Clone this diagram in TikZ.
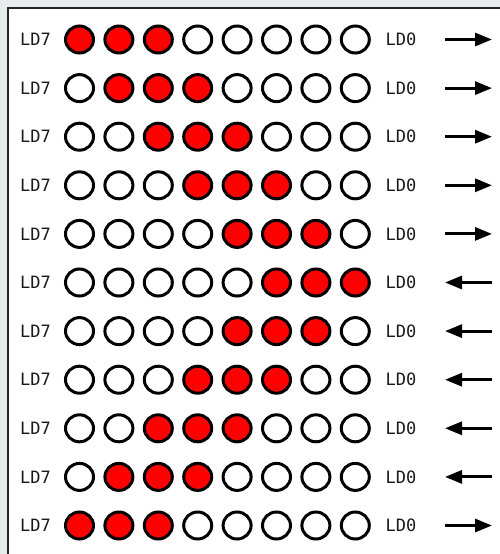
\documentclass[tikz,border=0pt]{standalone}
\usepackage{fontspec}
\setmonofont{DejaVu Sans Mono}
\usepackage{tikz}
\usetikzlibrary{shapes.geometric,arrows.meta}
\definecolor{pagebg}{HTML}{E7ECEF}
\definecolor{labelgray}{HTML}{1A1A1A}

\begin{document}
\begin{tikzpicture}[x=1pt, y=-1pt,
        led/.style={ellipse, draw=black, line width=3pt, fill=white, minimum width=28pt, minimum height=27pt, inner sep=0pt},
        lit/.style={fill=red},
        tag/.style={font=\ttfamily\fontsize{17}{17}\selectfont, text=labelgray, inner sep=0pt}]
    \clip (0,0) rectangle (500,554);
    \fill[pagebg] (0,0) rectangle (500,554);
    \draw[line width=2pt, draw=black!85, fill=white] (8,8) rectangle (520,580);

    % row A
    \begin{scope}[shift={(0,39.5)}]
    \node[tag] (AL) at (35.5,0) {LD7};
    \node[led, lit] (A7) at (79.5,0) {};
    \node[led, lit] (A6) at (118.9,0) {};
    \node[led, lit] (A5) at (158.3,0) {};
    \node[led] (A4) at (197.7,0) {};
    \node[led] (A3) at (237.1,0) {};
    \node[led] (A2) at (276.5,0) {};
    \node[led] (A1) at (315.9,0) {};
    \node[led] (A0) at (355.3,0) {};
    \node[tag] (AR) at (401,0) {LD0};
    \coordinate (AW) at (445,0);
    \coordinate (AE) at (492,0);
    \end{scope}

    % row B
    \begin{scope}[shift={(0,88.1)}]
    \node[tag] (BL) at (35.5,0) {LD7};
    \node[led] (B7) at (79.5,0) {};
    \node[led, lit] (B6) at (118.9,0) {};
    \node[led, lit] (B5) at (158.3,0) {};
    \node[led, lit] (B4) at (197.7,0) {};
    \node[led] (B3) at (237.1,0) {};
    \node[led] (B2) at (276.5,0) {};
    \node[led] (B1) at (315.9,0) {};
    \node[led] (B0) at (355.3,0) {};
    \node[tag] (BR) at (401,0) {LD0};
    \coordinate (BW) at (445,0);
    \coordinate (BE) at (492,0);
    \end{scope}

    % row C
    \begin{scope}[shift={(0,136.7)}]
    \node[tag] (CL) at (35.5,0) {LD7};
    \node[led] (C7) at (79.5,0) {};
    \node[led] (C6) at (118.9,0) {};
    \node[led, lit] (C5) at (158.3,0) {};
    \node[led, lit] (C4) at (197.7,0) {};
    \node[led, lit] (C3) at (237.1,0) {};
    \node[led] (C2) at (276.5,0) {};
    \node[led] (C1) at (315.9,0) {};
    \node[led] (C0) at (355.3,0) {};
    \node[tag] (CR) at (401,0) {LD0};
    \coordinate (CW) at (445,0);
    \coordinate (CE) at (492,0);
    \end{scope}

    % row D
    \begin{scope}[shift={(0,185.3)}]
    \node[tag] (DL) at (35.5,0) {LD7};
    \node[led] (D7) at (79.5,0) {};
    \node[led] (D6) at (118.9,0) {};
    \node[led] (D5) at (158.3,0) {};
    \node[led, lit] (D4) at (197.7,0) {};
    \node[led, lit] (D3) at (237.1,0) {};
    \node[led, lit] (D2) at (276.5,0) {};
    \node[led] (D1) at (315.9,0) {};
    \node[led] (D0) at (355.3,0) {};
    \node[tag] (DR) at (401,0) {LD0};
    \coordinate (DW) at (445,0);
    \coordinate (DE) at (492,0);
    \end{scope}

    % row E
    \begin{scope}[shift={(0,233.9)}]
    \node[tag] (EL) at (35.5,0) {LD7};
    \node[led] (E7) at (79.5,0) {};
    \node[led] (E6) at (118.9,0) {};
    \node[led] (E5) at (158.3,0) {};
    \node[led] (E4) at (197.7,0) {};
    \node[led, lit] (E3) at (237.1,0) {};
    \node[led, lit] (E2) at (276.5,0) {};
    \node[led, lit] (E1) at (315.9,0) {};
    \node[led] (E0) at (355.3,0) {};
    \node[tag] (ER) at (401,0) {LD0};
    \coordinate (EW) at (445,0);
    \coordinate (EE) at (492,0);
    \end{scope}

    % row F
    \begin{scope}[shift={(0,282.5)}]
    \node[tag] (FL) at (35.5,0) {LD7};
    \node[led] (F7) at (79.5,0) {};
    \node[led] (F6) at (118.9,0) {};
    \node[led] (F5) at (158.3,0) {};
    \node[led] (F4) at (197.7,0) {};
    \node[led] (F3) at (237.1,0) {};
    \node[led, lit] (F2) at (276.5,0) {};
    \node[led, lit] (F1) at (315.9,0) {};
    \node[led, lit] (F0) at (355.3,0) {};
    \node[tag] (FR) at (401,0) {LD0};
    \coordinate (FW) at (445,0);
    \coordinate (FE) at (492,0);
    \end{scope}

    % row G
    \begin{scope}[shift={(0,331.1)}]
    \node[tag] (GL) at (35.5,0) {LD7};
    \node[led] (G7) at (79.5,0) {};
    \node[led] (G6) at (118.9,0) {};
    \node[led] (G5) at (158.3,0) {};
    \node[led] (G4) at (197.7,0) {};
    \node[led, lit] (G3) at (237.1,0) {};
    \node[led, lit] (G2) at (276.5,0) {};
    \node[led, lit] (G1) at (315.9,0) {};
    \node[led] (G0) at (355.3,0) {};
    \node[tag] (GR) at (401,0) {LD0};
    \coordinate (GW) at (445,0);
    \coordinate (GE) at (492,0);
    \end{scope}

    % row H
    \begin{scope}[shift={(0,379.7)}]
    \node[tag] (HL) at (35.5,0) {LD7};
    \node[led] (H7) at (79.5,0) {};
    \node[led] (H6) at (118.9,0) {};
    \node[led] (H5) at (158.3,0) {};
    \node[led, lit] (H4) at (197.7,0) {};
    \node[led, lit] (H3) at (237.1,0) {};
    \node[led, lit] (H2) at (276.5,0) {};
    \node[led] (H1) at (315.9,0) {};
    \node[led] (H0) at (355.3,0) {};
    \node[tag] (HR) at (401,0) {LD0};
    \coordinate (HW) at (445,0);
    \coordinate (HE) at (492,0);
    \end{scope}

    % row I
    \begin{scope}[shift={(0,428.3)}]
    \node[tag] (IL) at (35.5,0) {LD7};
    \node[led] (I7) at (79.5,0) {};
    \node[led] (I6) at (118.9,0) {};
    \node[led, lit] (I5) at (158.3,0) {};
    \node[led, lit] (I4) at (197.7,0) {};
    \node[led, lit] (I3) at (237.1,0) {};
    \node[led] (I2) at (276.5,0) {};
    \node[led] (I1) at (315.9,0) {};
    \node[led] (I0) at (355.3,0) {};
    \node[tag] (IR) at (401,0) {LD0};
    \coordinate (IW) at (445,0);
    \coordinate (IE) at (492,0);
    \end{scope}

    % row J
    \begin{scope}[shift={(0,476.9)}]
    \node[tag] (JL) at (35.5,0) {LD7};
    \node[led] (J7) at (79.5,0) {};
    \node[led, lit] (J6) at (118.9,0) {};
    \node[led, lit] (J5) at (158.3,0) {};
    \node[led, lit] (J4) at (197.7,0) {};
    \node[led] (J3) at (237.1,0) {};
    \node[led] (J2) at (276.5,0) {};
    \node[led] (J1) at (315.9,0) {};
    \node[led] (J0) at (355.3,0) {};
    \node[tag] (JR) at (401,0) {LD0};
    \coordinate (JW) at (445,0);
    \coordinate (JE) at (492,0);
    \end{scope}

    % row K
    \begin{scope}[shift={(0,525.5)}]
    \node[tag] (KL) at (35.5,0) {LD7};
    \node[led, lit] (K7) at (79.5,0) {};
    \node[led, lit] (K6) at (118.9,0) {};
    \node[led, lit] (K5) at (158.3,0) {};
    \node[led] (K4) at (197.7,0) {};
    \node[led] (K3) at (237.1,0) {};
    \node[led] (K2) at (276.5,0) {};
    \node[led] (K1) at (315.9,0) {};
    \node[led] (K0) at (355.3,0) {};
    \node[tag] (KR) at (401,0) {LD0};
    \coordinate (KW) at (445,0);
    \coordinate (KE) at (492,0);
    \end{scope}

    \begin{scope}[every edge/.style={draw=black, line width=3pt, -{Triangle[length=17pt, width=13pt]}}]
        \path (AW) edge (AE);
        \path (BW) edge (BE);
        \path (CW) edge (CE);
        \path (DW) edge (DE);
        \path (EW) edge (EE);
        \path (FE) edge (FW);
        \path (GE) edge (GW);
        \path (HE) edge (HW);
        \path (IE) edge (IW);
        \path (JE) edge (JW);
        \path (KW) edge (KE);
    \end{scope}
\end{tikzpicture}
\end{document}
